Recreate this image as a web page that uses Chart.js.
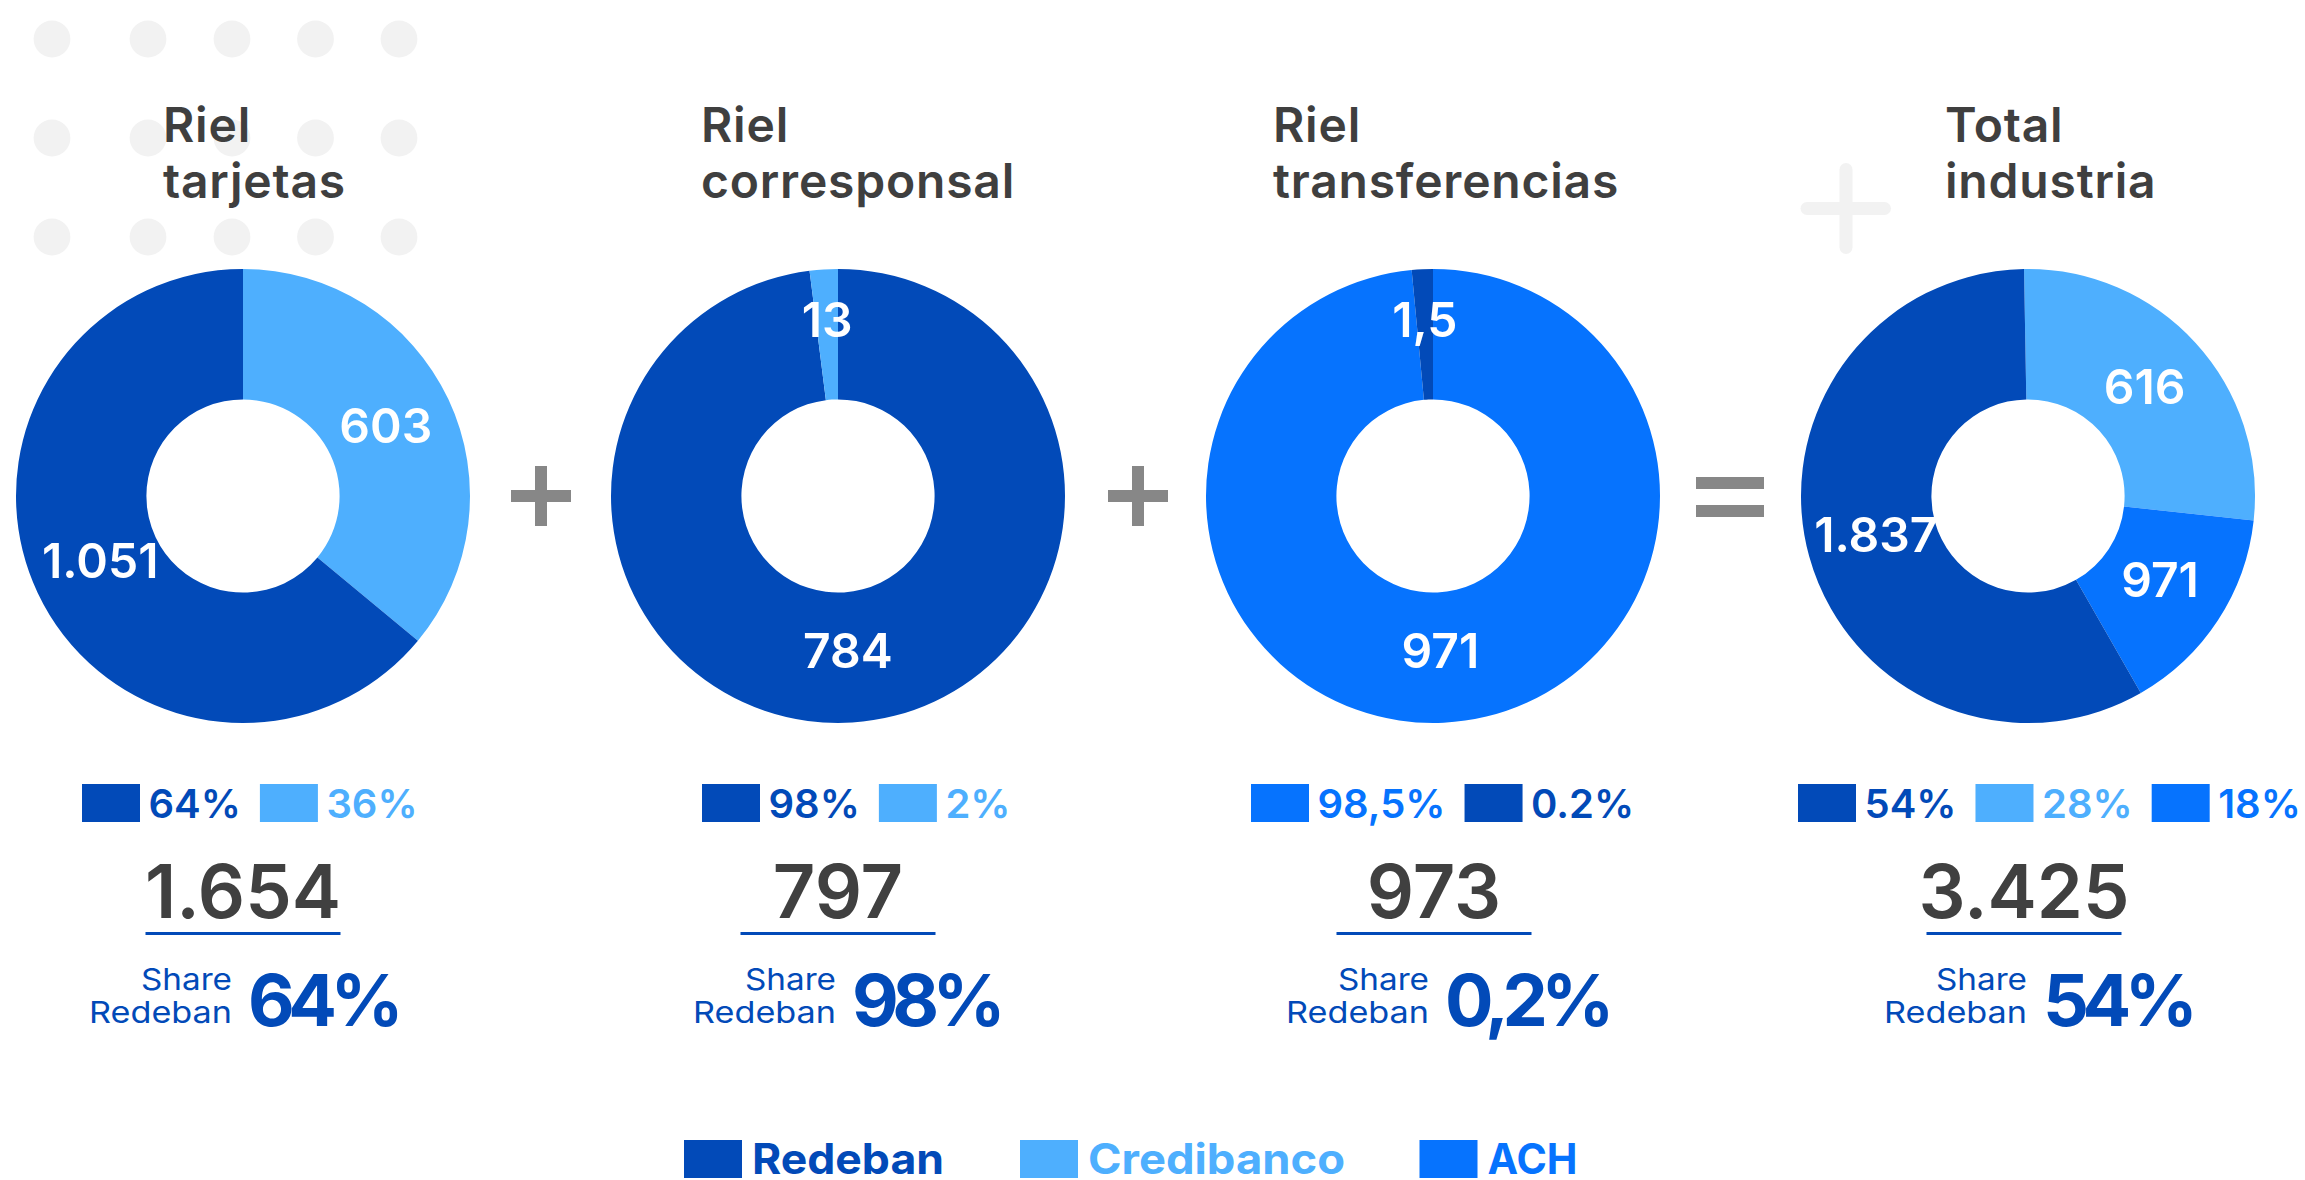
<!DOCTYPE html>
<html>
<head>
<meta charset="utf-8">
<script src="https://cdn.jsdelivr.net/npm/chart.js@4.4.1/dist/chart.umd.min.js"></script>
<style>
  html, body { margin: 0; padding: 0; background: #fff; }
  #page { position: relative; width: 2305px; height: 1180px; overflow: hidden; font-family: Inter, "Noto Sans", sans-serif; }
  #deco { position: absolute; left: 0; top: 0; }
  canvas.donut { position: absolute; }
</style>
</head>
<body>
<div id="page">
  <svg id="deco" width="2305" height="1180" xmlns="http://www.w3.org/2000/svg"></svg>
  <canvas id="c0" class="donut" width="470" height="470"></canvas>
  <canvas id="c1" class="donut" width="470" height="470"></canvas>
  <canvas id="c2" class="donut" width="470" height="470"></canvas>
  <canvas id="c3" class="donut" width="470" height="470"></canvas>
</div>
<script>
// company colours
const companies = ["Redeban", "Credibanco", "ACH"];
const companyColors = { Redeban: "#024AB8", Credibanco: "#4EAFFE", ACH: "#0673FE" };

// Riel tarjetas
const tarjetasTitle = ["Riel", "tarjetas"];
const tarjetasCats = ["Credibanco", "Redeban"];
const tarjetasShare = [36, 64];
const tarjetasValues = [603, 1051];
const tarjetasLegend = ["Redeban", "Credibanco"];
const tarjetasPct = ["64%", "36%"];

// Riel corresponsal
const corresponsalTitle = ["Riel", "corresponsal"];
const corresponsalCats = ["Redeban", "Credibanco"];
const corresponsalShare = [98, 2];
const corresponsalValues = [784, 13];
const corresponsalLegend = ["Redeban", "Credibanco"];
const corresponsalPct = ["98%", "2%"];

// Riel transferencias
const transferenciasTitle = ["Riel", "transferencias"];
const transferenciasCats = ["ACH", "Redeban"];
const transferenciasShare = [98.5, 1.5];
const transferenciasValues = [971, 1.5];
const transferenciasLegend = ["ACH", "Redeban"];
const transferenciasPct = ["98,5%", "0.2%"];

// Total industria
const totalTitle = ["Total", "industria"];
const totalCats = ["Credibanco", "ACH", "Redeban"];
const totalShare = [27, 15, 58];
const totalValues = [616, 971, 1837];
const totalLegend = ["Redeban", "Credibanco", "ACH"];
const totalPct = ["54%", "28%", "18%"];

const railTotals = [1654, 797, 973, 3425];
const redebanShare = ["64%", "98%", "0,2%", "54%"];

// number format with dot thousands and comma decimals
function fmt(v) {
  const parts = String(v).split(".");
  return parts[0].replace(/\B(?=(\d{3})+(?!\d))/g, ".") + (parts[1] ? "," + parts[1] : "");
}

const panels = [
  { title: tarjetasTitle, cats: tarjetasCats, share: tarjetasShare, values: tarjetasValues, legend: tarjetasLegend, pct: tarjetasPct, rotation: 0 },
  { title: corresponsalTitle, cats: corresponsalCats, share: corresponsalShare, values: corresponsalValues, legend: corresponsalLegend, pct: corresponsalPct, rotation: 0 },
  { title: transferenciasTitle, cats: transferenciasCats, share: transferenciasShare, values: transferenciasValues, legend: transferenciasLegend, pct: transferenciasPct, rotation: 0 },
  { title: totalTitle, cats: totalCats, share: totalShare, values: totalValues, legend: totalLegend, pct: totalPct, rotation: -1 }
];

// layout
const centerX = [243, 838, 1433, 2028];
const centerY = 496;
const titleX = [163, 701, 1273, 1945];
const legendX = [82, 702, 1251, 1798];
const totalX = [243, 838, 1434, 2024];
const shareX = [232, 836, 1429, 2027];
const ink = "#3F3F3F";
const signGray = "#878787";
const faint = "#F2F2F2";
const blue = companyColors.Redeban;

const svg = document.getElementById("deco");
const NS = "http://www.w3.org/2000/svg";
function el(tag, attrs, text) {
  const e = document.createElementNS(NS, tag);
  for (const k in attrs) e.setAttribute(k, attrs[k]);
  if (text !== undefined) e.textContent = text;
  svg.appendChild(e);
  return e;
}

// background dots and faint plus
[52, 148, 232, 315.5, 399].forEach(x => {
  [39, 138, 237].forEach(y => el("circle", { cx: x, cy: y, r: 18.4, fill: faint }));
});
el("line", { x1: 1846, y1: 169.5, x2: 1846, y2: 247.5, stroke: faint, "stroke-width": 13, "stroke-linecap": "round" });
el("line", { x1: 1807, y1: 208.5, x2: 1884.5, y2: 208.5, stroke: faint, "stroke-width": 13, "stroke-linecap": "round" });

// operators between donuts
[541, 1138].forEach(x => {
  el("rect", { x: x - 30, y: centerY - 6, width: 60, height: 12, fill: signGray });
  el("rect", { x: x - 6, y: centerY - 30, width: 12, height: 60, fill: signGray });
});
el("rect", { x: 1696, y: 477, width: 68, height: 12, fill: signGray });
el("rect", { x: 1696, y: 505, width: 68, height: 12, fill: signGray });

panels.forEach((p, i) => {
  // title
  el("text", { x: titleX[i], y: 142, fill: ink, "font-size": 48, "font-weight": 600, "letter-spacing": 0.8 }, p.title[0]);
  el("text", { x: titleX[i], y: 198, fill: ink, "font-size": 48, "font-weight": 600, "letter-spacing": 0.8 }, p.title[1]);

  // small legend row
  let x = legendX[i];
  p.legend.forEach((name, j) => {
    el("rect", { x: x, y: 784, width: 58, height: 38, fill: companyColors[name] });
    const t = el("text", { x: x + 66.5, y: 818, fill: companyColors[name], "font-size": 40, "font-weight": 600 }, p.pct[j]);
    x = x + 66.5 + t.getComputedTextLength() + 19;
  });

  // rail total with underline
  el("text", { x: totalX[i], y: 918, fill: "#404040", "font-size": 74, "font-weight": 600, "text-anchor": "middle" }, fmt(railTotals[i]));
  el("rect", { x: totalX[i] - 97.5, y: 932, width: 195, height: 3, fill: blue });

  // share Redeban
  el("text", { x: shareX[i], y: 990, fill: blue, "font-size": 30, "text-anchor": "end", textLength: 91, lengthAdjust: "spacingAndGlyphs" }, "Share");
  el("text", { x: shareX[i], y: 1023, fill: blue, "font-size": 30, "text-anchor": "end", textLength: 143, lengthAdjust: "spacingAndGlyphs" }, "Redeban");
  el("text", { x: shareX[i] + 16, y: 1026, fill: blue, "font-size": 72, "font-weight": 700, "letter-spacing": -6.5 }, redebanShare[i]);
});

// bottom legend
const bottomWidths = [192, 257, 90];
[684, 1020, 1419.5].forEach((x, j) => {
  const name = companies[j];
  el("rect", { x: x, y: 1140, width: 58, height: 38, fill: companyColors[name] });
  el("text", { x: x + 68, y: 1174, fill: companyColors[name], "font-size": 42, "font-weight": 700, textLength: bottomWidths[j], lengthAdjust: "spacingAndGlyphs" }, name);
});

// white value labels inside the slices
const valueLabels = {
  id: "valueLabels",
  afterDatasetsDraw(chart, args, opts) {
    const ctx = chart.ctx;
    const meta = chart.getDatasetMeta(0);
    ctx.save();
    ctx.font = "600 48px Inter, sans-serif";
    ctx.fillStyle = "#fff";
    ctx.textAlign = "center";
    ctx.textBaseline = "middle";
    meta.data.forEach((arc, k) => {
      const a = arc.getProps(["x", "y", "startAngle", "endAngle", "innerRadius", "outerRadius"], true);
      const mid = (a.startAngle + a.endAngle) / 2;
      let r = (a.innerRadius + a.outerRadius) / 2 - 4;
      if (a.endAngle - a.startAngle < 0.2) r += 16;
      ctx.fillText(opts.labels[k], a.x + Math.cos(mid) * r, a.y + Math.sin(mid) * r);
    });
    ctx.restore();
  }
};

panels.forEach((p, i) => {
  const canvas = document.getElementById("c" + i);
  canvas.style.left = (centerX[i] - 235) + "px";
  canvas.style.top = (centerY - 235) + "px";
  new Chart(canvas, {
    type: "doughnut",
    data: {
      labels: p.cats,
      datasets: [{
        data: p.share,
        backgroundColor: p.cats.map(c => companyColors[c]),
        borderWidth: 0
      }]
    },
    options: {
      responsive: false,
      animation: false,
      radius: 227,
      cutout: 100,
      rotation: p.rotation,
      layout: { padding: 0 },
      plugins: {
        legend: { display: false },
        tooltip: { enabled: false },
        valueLabels: { labels: p.values.map(fmt) }
      }
    },
    plugins: [valueLabels]
  });
});
</script>
</body>
</html>
